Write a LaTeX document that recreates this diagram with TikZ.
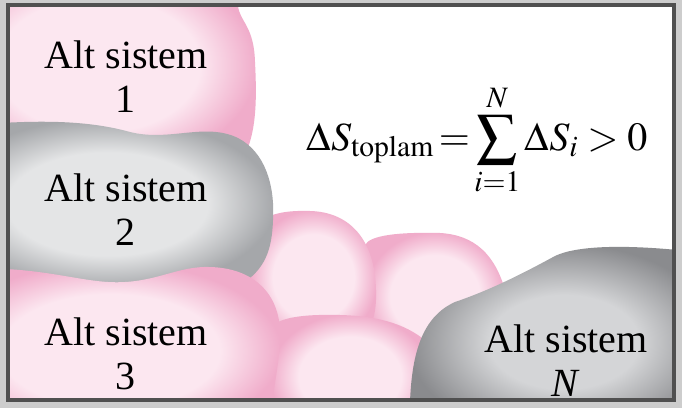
\documentclass[tikz,border=0pt]{standalone}
\usepackage{mathptmx}
\usepackage{fontspec}
\setmainfont{Liberation Serif}
\usepackage{tikz}
\usetikzlibrary{positioning}
\definecolor{BlobPink}{RGB}{252,231,240}
\definecolor{BlobPinkEdge}{RGB}{240,172,202}
\definecolor{BlobGray}{RGB}{228,229,230}
\definecolor{BlobGrayEdge}{RGB}{165,167,170}
\definecolor{BlobDark}{RGB}{212,213,215}
\definecolor{BlobDarkEdge}{RGB}{138,139,142}
\definecolor{FrameGray}{RGB}{205,205,205}
\definecolor{FrameLine}{RGB}{80,80,80}
\pgfdeclareradialshading{pinkblob}{\pgfpoint{0bp}{0bp}}{color(0bp)=(BlobPink); color(16bp)=(BlobPink); color(25bp)=(BlobPinkEdge); color(50bp)=(BlobPinkEdge)}
\pgfdeclareradialshading{grayblob}{\pgfpoint{0bp}{0bp}}{color(0bp)=(BlobGray); color(15bp)=(BlobGray); color(25bp)=(BlobGrayEdge); color(50bp)=(BlobGrayEdge)}
\pgfdeclareradialshading{darkblob}{\pgfpoint{0bp}{0bp}}{color(0bp)=(BlobDark); color(12bp)=(BlobDark); color(25bp)=(BlobDarkEdge); color(50bp)=(BlobDarkEdge)}

\begin{document}
\begin{tikzpicture}[x=0.5pt, y=-0.5pt,
    pinkb/.style={shade, shading=pinkblob},
    grayb/.style={shade, shading=grayblob},
    darkb/.style={shade, shading=darkblob},
    lbl/.style={align=center, font=\fontsize{20}{22}\selectfont, inner sep=0pt}
  ]
    % Frame
    \fill[FrameGray] (0,0) rectangle (682,408);
    \fill[white] (8,5) rectangle (674,400);

    \begin{scope}
      \clip (8,5) rectangle (674,400);
      % Middle blobs (back to front)
      \path[pinkb] (365,245) .. controls (370,235) and (400,232) .. (440,233) .. controls (475,235) and (495,255) .. (505,290) -- (505,360) -- (365,360) -- cycle;
      \path[pinkb] (250,240) .. controls (255,215) and (280,210) .. (310,211) .. controls (350,212) and (375,240) .. (376,290) .. controls (377,320) and (370,340) .. (340,345) -- (250,345) -- cycle;
      \path[pinkb] (270,330) .. controls (275,318) and (300,314) .. (340,315) .. controls (380,316) and (410,325) .. (430,345) -- (430,440) -- (270,440) -- cycle;
      % Left column
      \path[pinkb] (-60,-40) -- (238,-40) -- (238,6) .. controls (240,22) and (254,26) .. (255,62) .. controls (257,100) and (256,128) .. (247,150) .. controls (230,170) and (100,165) .. (-60,160) -- cycle;
      \path[grayb] (-60,128) .. controls (20,120) and (80,118) .. (130,132) .. controls (170,142) and (205,122) .. (238,138) .. controls (265,152) and (275,185) .. (273,220) .. controls (272,250) and (265,270) .. (240,285) -- (-60,290) -- cycle;
      \path[pinkb] (-60,270) .. controls (40,262) and (80,285) .. (125,282) .. controls (160,280) and (180,266) .. (210,267) .. controls (250,268) and (278,290) .. (280,330) .. controls (281,360) and (272,390) .. (268,440) -- (-60,440) -- cycle;
      % Subsystem N
      \path[darkb] (410,440) .. controls (408,370) and (415,320) .. (455,302) .. controls (490,290) and (520,275) .. (555,256) .. controls (580,244) and (640,244) .. (720,255) -- (720,440) -- cycle;
    \end{scope}
    \draw[FrameLine, line width=2] (8,5) rectangle (674,400);

    % Labels
    \node[lbl] (s1) at (126,77) {Alt sistem\\1};
    \node[lbl] (s2) at (126,210) {Alt sistem\\2};
    \node[lbl] (s3) at (126,354) {Alt sistem\\3};
    \node[lbl] (sn) at (566,361) {Alt sistem\\\textit{N}};
    \node[lbl] (eq) at (477,140) {$\displaystyle \Delta S_{\mathrm{toplam}}\!=\!\sum_{i=1}^{N}\Delta S_i > 0$};
\end{tikzpicture}
\end{document}
